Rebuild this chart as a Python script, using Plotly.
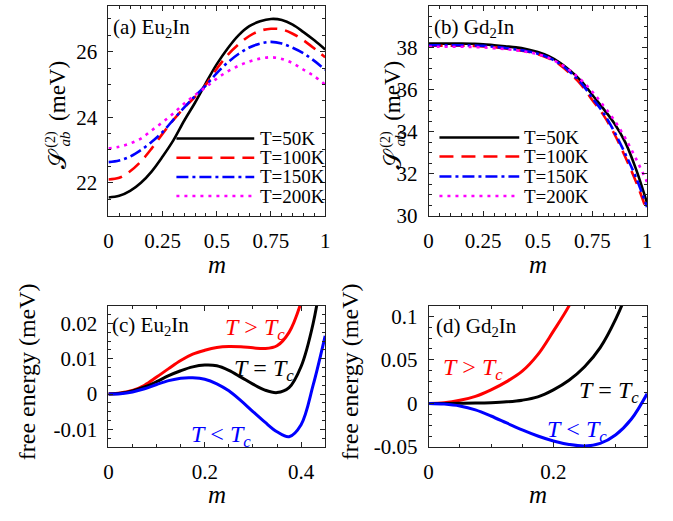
import plotly.graph_objects as go

FONT = "Liberation Serif"
W, H = 673, 521

# ---------------- data ----------------
m_top = [0, 0.05, 0.1, 0.15, 0.2, 0.25, 0.3, 0.35, 0.4, 0.45, 0.5,
         0.55, 0.6, 0.65, 0.7, 0.75, 0.8, 0.85, 0.9, 0.95, 1.0]

eu_T50 = [21.55, 21.6, 21.75, 22.0, 22.35, 22.8, 23.3, 23.9, 24.45, 25.05, 25.62,
          26.1, 26.5, 26.78, 26.93, 27.0, 26.97, 26.83, 26.6, 26.35, 26.07]
eu_T100 = [22.1, 22.15, 22.35, 22.65, 23.05, 23.5, 23.92, 24.3, 24.62, 25.0, 25.48,
           25.9, 26.22, 26.48, 26.64, 26.7, 26.68, 26.55, 26.35, 26.1, 25.83]
eu_T150 = [22.63, 22.68, 22.8, 23.0, 23.25, 23.55, 23.93, 24.3, 24.65, 24.97, 25.35,
           25.67, 25.93, 26.13, 26.25, 26.3, 26.25, 26.12, 25.95, 25.72, 25.45]
eu_T200 = [23.05, 23.1, 23.2, 23.35, 23.6, 23.85, 24.12, 24.42, 24.68, 24.92, 25.18,
           25.4, 25.57, 25.7, 25.79, 25.83, 25.78, 25.65, 25.45, 25.25, 25.0]

gd_T50 = [38.2, 38.2, 38.2, 38.2, 38.19, 38.17, 38.12, 38.07, 38.02, 37.93, 37.8,
          37.6, 37.3, 36.9, 36.4, 35.75, 35.1, 34.4, 33.5, 32.2, 30.6]
gd_T100 = [38.1, 38.1, 38.1, 38.1, 38.09, 38.07, 38.03, 37.97, 37.9, 37.82, 37.7,
           37.5, 37.2, 36.75, 36.22, 35.5, 34.8, 33.9, 32.8, 31.6, 30.2]
gd_T150 = [38.12, 38.12, 38.12, 38.12, 38.11, 38.09, 38.05, 37.99, 37.92, 37.84, 37.72,
           37.53, 37.24, 36.82, 36.3, 35.6, 34.9, 34.0, 32.95, 31.8, 30.4]
gd_T200 = [38.05, 38.05, 38.05, 38.05, 38.04, 38.02, 37.98, 37.94, 37.88, 37.8, 37.7,
           37.52, 37.25, 36.9, 36.45, 35.9, 35.25, 34.55, 33.7, 32.7, 31.6]

top_names = ["T=50K", "T=100K", "T=150K", "T=200K"]

# (c) Eu2In free energy
m_c = [0, 0.025, 0.05, 0.075, 0.1, 0.125, 0.15, 0.175, 0.2, 0.225, 0.25,
       0.275, 0.3, 0.325, 0.35, 0.375, 0.4, 0.425, 0.45]
fc_above = [0, 0.0003, 0.001, 0.0025, 0.0048, 0.0072, 0.0095, 0.0113, 0.0124, 0.0132, 0.0135,
            0.0134, 0.0131, 0.0129, 0.0137, 0.0175, 0.026, 0.04, 0.06]
fc_equal = [0, 0.0002, 0.0009, 0.002, 0.0035, 0.0052, 0.0066, 0.0077, 0.0082, 0.008, 0.0067,
            0.0048, 0.0028, 0.0011, 0.0004, 0.0018, 0.0078, 0.02, 0.04]
fc_below = [0, 0.0001, 0.0006, 0.0015, 0.0027, 0.0038, 0.0045, 0.0046, 0.0042, 0.0029, 0.0009,
            -0.0019, -0.005, -0.008, -0.0107, -0.0121, -0.0087, 0.0025, 0.0165]

# (d) Gd2In free energy
m_d = [0, 0.025, 0.05, 0.075, 0.1, 0.125, 0.15, 0.175, 0.2, 0.225, 0.25,
       0.275, 0.3, 0.325, 0.35]
fd_above = [0, 0.0008, 0.0035, 0.008, 0.0155, 0.025, 0.037, 0.056, 0.083, 0.112, 0.15,
            0.2, 0.26, 0.33, 0.41]
fd_equal = [0, 0.0, 0.0001, 0.0003, 0.0008, 0.0018, 0.0037, 0.0075, 0.0155, 0.0265, 0.042,
            0.064, 0.097, 0.14, 0.19]
fd_below = [0, -0.0008, -0.003, -0.0075, -0.0145, -0.0225, -0.0305, -0.0375, -0.0432, -0.0472, -0.049,
            -0.046, -0.036, -0.018, 0.011]

# ---------------- styles ----------------
top_colors = ["#000000", "#ff0000", "#0000ff", "#ff00ff"]
top_dash = ["solid", "14px,8px", "12px,4px,3px,4px", "3px,5px"]
top_width = [2.6, 2.6, 2.6, 2.6]

fig = go.Figure()

for ys, c, d, w, n in zip([eu_T50, eu_T100, eu_T150, eu_T200], top_colors, top_dash, top_width, top_names):
    fig.add_trace(go.Scatter(x=m_top, y=ys, mode="lines", name=n, line=dict(color=c, dash=d, width=w, shape="spline"),
                             xaxis="x", yaxis="y", showlegend=False))
for ys, c, d, w, n in zip([gd_T50, gd_T100, gd_T150, gd_T200], top_colors, top_dash, top_width, top_names):
    fig.add_trace(go.Scatter(x=m_top, y=ys, mode="lines", name=n, line=dict(color=c, dash=d, width=w, shape="spline"),
                             xaxis="x2", yaxis="y2", showlegend=False))

bot_colors = ["#ff0000", "#000000", "#0000ff"]
for ys, c in zip([fc_above, fc_equal, fc_below], bot_colors):
    fig.add_trace(go.Scatter(x=m_c, y=ys, mode="lines", line=dict(color=c, width=3, shape="spline"),
                             xaxis="x3", yaxis="y3", showlegend=False))
for ys, c in zip([fd_above, fd_equal, fd_below], bot_colors):
    fig.add_trace(go.Scatter(x=m_d, y=ys, mode="lines", line=dict(color=c, width=3, shape="spline"),
                             xaxis="x4", yaxis="y4", showlegend=False))


def px(x):
    return x / W


def py(y):
    return 1 - y / H


TICK_SIZE = 21


def axis(domain, rng, tickvals, ticktext, minor_dtick, anchor):
    return dict(domain=domain, range=rng, anchor=anchor,
                showline=True, linecolor="#222222", linewidth=1, mirror="ticks",
                ticks="inside", ticklen=5, tickwidth=1, tickcolor="#222222",
                tickvals=tickvals, ticktext=ticktext,
                showgrid=False, zeroline=False, ticklabelstandoff=6,
                tickfont=dict(family=FONT, size=TICK_SIZE, color="black"),
                minor=dict(ticks="inside", ticklen=3, tickwidth=1, tickcolor="#222222",
                           dtick=minor_dtick, tick0=0, showgrid=False))


xa = [px(105), px(325)]
xb = [px(430), px(651.7)]
ytop = [py(220), py(5)]
ybot = [py(457.3), py(312.7)]

top_xt = [0, 0.25, 0.5, 0.75, 1]
top_xl = ["0", "0.25", "0.5", "0.75", "1"]

fig.update_layout(
    width=W, height=H, margin=dict(l=0, r=0, t=0, b=0),
    paper_bgcolor="white", plot_bgcolor="white",
    font=dict(family=FONT, color="black", size=20),
    xaxis=axis(xa, [0, 1], top_xt, top_xl, 0.05, "y"),
    yaxis=axis(ytop, [21, 27.4], [22, 24, 26], ["22", "24", "26"], 0.5, "x"),
    xaxis2=axis(xb, [0, 1], top_xt, top_xl, 0.05, "y2"),
    yaxis2=axis(ytop, [30, 40], [30, 32, 34, 36, 38], ["30", "32", "34", "36", "38"], 0.5, "x2"),
    xaxis3=axis(xa, [0, 0.45], [0, 0.2, 0.4], ["0", "0.2", "0.4"], 0.05, "y3"),
    yaxis3=axis(ybot, [-0.015, 0.025], [-0.01, 0, 0.01, 0.02], ["-0.01", "0", "0.01", "0.02"], 0.0025, "x3"),
    xaxis4=axis(xb, [0, 0.35], [0, 0.2], ["0", "0.2"], 0.05, "y4"),
    yaxis4=axis(ybot, [-0.05, 0.112], [-0.05, 0, 0.05, 0.1], ["-0.05", "0", "0.05", "0.1"], 0.0125, "x4"),
)

ann = []
shapes = []


def text(x, y, s, size=22, color="black", xanchor="center", angle=0):
    ann.append(dict(x=px(x), y=py(y), xref="paper", yref="paper", text=s, showarrow=False,
                    xanchor=xanchor, yanchor="middle", textangle=angle,
                    font=dict(family=FONT, size=size, color=color)))


# panel titles
text(108, 28, "(a) Eu<sub>2</sub>In", size=21, xanchor="left")
text(433, 28, "(b) Gd<sub>2</sub>In", size=21, xanchor="left")
text(107, 333, "(c) Eu<sub>2</sub>In", size=21, xanchor="left")
text(435, 334, "(d) Gd<sub>2</sub>In", size=21, xanchor="left")

# axis titles: S_ab^(2) (meV) with stacked sub/superscript
for dx in (0, 340):
    text(54 + dx, 162, "𝒮", size=24, angle=-90)
    text(47 + dx, 142, "(2)", size=14, angle=-90)
    text(61 + dx, 141, "<i>ab</i>", size=15, angle=-90)
    text(54 + dx, 92, "(meV)", size=23, angle=-90)
text(22, 380, "free energy (meV)", size=24, angle=-90)
text(350, 380, "free energy (meV)", size=24, angle=-90)
for xc, yc in [(215, 270), (541, 270), (215, 506), (541, 506)]:
    text(xc, yc, "<i>m</i>", size=25)


# legends (drawn as keys)
def legend(x0, x1, xt, rows):
    for (yy, name), c, d, w in zip(rows, top_colors, top_dash, top_width):
        shapes.append(dict(type="line", xref="paper", yref="paper", x0=px(x0), x1=px(x1), y0=py(yy), y1=py(yy),
                           line=dict(color=c, dash=d, width=w)))
        text(xt, yy, name, size=19, xanchor="left")


legend(174, 253, 257, list(zip([141, 160.7, 180.5, 200], top_names)))
legend(441, 522, 525, list(zip([140, 159.5, 180, 200], top_names)))

# curve labels
TA = "<i>T</i> > <i>T</i><sub><i>c</i></sub>"
TE = "<i>T</i> = <i>T</i><sub><i>c</i></sub>"
TB = "<i>T</i> < <i>T</i><sub><i>c</i></sub>"
text(254, 336, TA, size=24, color="#ff0000")
text(263, 378, TE, size=24, color="#000000")
text(219, 446, TB, size=24, color="#0000ff")
text(475, 377, TA, size=24, color="#ff0000")
text(613, 401, TE, size=24, color="#000000")
text(581, 441, TB, size=24, color="#0000ff")

fig.update_layout(annotations=ann, shapes=shapes)

fig.write_html("out.html", config={"displayModeBar": False},
               post_script="document.body.style.margin='0px';document.body.style.overflow='hidden';")
